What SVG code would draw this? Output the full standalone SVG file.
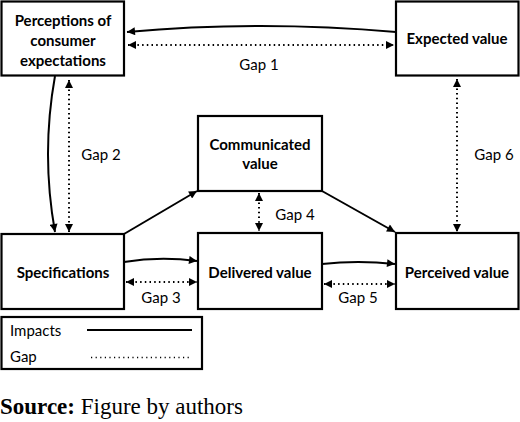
<svg xmlns="http://www.w3.org/2000/svg" width="520" height="422" viewBox="0 0 520 422">
<defs>
<style>
.box{fill:#fff;stroke:#000;stroke-width:2.2}
.nt{font-family:"Lato","Liberation Sans",sans-serif;font-weight:700;font-size:15px;fill:#000;text-anchor:middle}
.gl{font-family:"Lato","Liberation Sans",sans-serif;font-size:15px;fill:#000;text-anchor:middle}
.lt{font-family:"Lato","Liberation Sans",sans-serif;font-size:15px;fill:#000}
.imp{fill:none;stroke:#000;stroke-width:2}
.gap{fill:none;stroke:#000;stroke-width:2;stroke-dasharray:1.5 3.2}
.src{font-family:"Liberation Serif","Times New Roman",serif;font-size:23px;fill:#000}
</style>
<marker id="ah" viewBox="0 0 10 10" refX="10" refY="5" markerWidth="9" markerHeight="8" markerUnits="userSpaceOnUse" orient="auto-start-reverse">
<path d="M0,0 L10,5 L0,10 Z" fill="#000"/>
</marker>
</defs>

<g id="connectors">
<path class="imp" d="M396,32 Q260,20 127,32" marker-end="url(#ah)"/>
<path class="gap" d="M128,45 L394,45" marker-start="url(#ah)" marker-end="url(#ah)"/>
<path class="imp" d="M55,76 Q41,154 55,232" marker-end="url(#ah)"/>
<path class="gap" d="M69,80 L69,232" marker-start="url(#ah)" marker-end="url(#ah)"/>
<path class="gap" d="M457,79 L457,232" marker-start="url(#ah)" marker-end="url(#ah)"/>
<path class="imp" d="M124,234 L197,191" marker-end="url(#ah)"/>
<path class="imp" d="M322,191 L395,232" marker-end="url(#ah)"/>
<path class="gap" d="M259,193 L259,231" marker-start="url(#ah)" marker-end="url(#ah)"/>
<path class="imp" d="M124,262 Q160,256 197,261" marker-end="url(#ah)"/>
<path class="gap" d="M126,282 L197,282" marker-start="url(#ah)" marker-end="url(#ah)"/>
<path class="imp" d="M322,264 Q358,260 395,264" marker-end="url(#ah)"/>
<path class="gap" d="M324,284 L395,284" marker-start="url(#ah)" marker-end="url(#ah)"/>
<text class="gl" x="259" y="70">Gap 1</text>
<text class="gl" x="101" y="160">Gap 2</text>
<text class="gl" x="161" y="303">Gap 3</text>
<text class="gl" x="295" y="220">Gap 4</text>
<text class="gl" x="358" y="303">Gap 5</text>
<text class="gl" x="494" y="160">Gap 6</text>
</g>

<g id="perceptions">
<rect class="box" x="1.5" y="1.5" width="122.5" height="74"/>
<text class="nt" x="63" y="26">Perceptions of</text>
<text class="nt" x="63" y="46">consumer</text>
<text class="nt" x="63" y="66">expectations</text>
</g>

<g id="expected">
<rect class="box" x="396" y="1.5" width="122.5" height="74"/>
<text class="nt" x="457" y="44">Expected value</text>
</g>

<g id="communicated">
<rect class="box" x="198" y="116" width="124" height="75"/>
<text class="nt" x="260" y="150">Communicated</text>
<text class="nt" x="260" y="169">value</text>
</g>

<g id="specifications">
<rect class="box" x="1.5" y="234" width="122.5" height="75"/>
<text class="nt" x="63" y="278">Specifications</text>
</g>

<g id="delivered">
<rect class="box" x="198" y="233" width="124" height="76"/>
<text class="nt" x="260" y="278">Delivered value</text>
</g>

<g id="perceived">
<rect class="box" x="396" y="233" width="122.5" height="76"/>
<text class="nt" x="457" y="278">Perceived value</text>
</g>

<g id="legend">
<rect class="box" x="1.5" y="317" width="200.5" height="52"/>
<text class="lt" x="10" y="336">Impacts</text>
<line class="imp" x1="87" y1="330" x2="192" y2="330"/>
<text class="lt" x="10" y="362">Gap</text>
<line x1="91" y1="357.5" x2="191" y2="357.5" stroke="#000" stroke-width="1.3" stroke-dasharray="1.2 3.4"/>
</g>

<text class="src" x="0" y="414"><tspan font-weight="bold">Source:</tspan> Figure by authors</text>
</svg>
